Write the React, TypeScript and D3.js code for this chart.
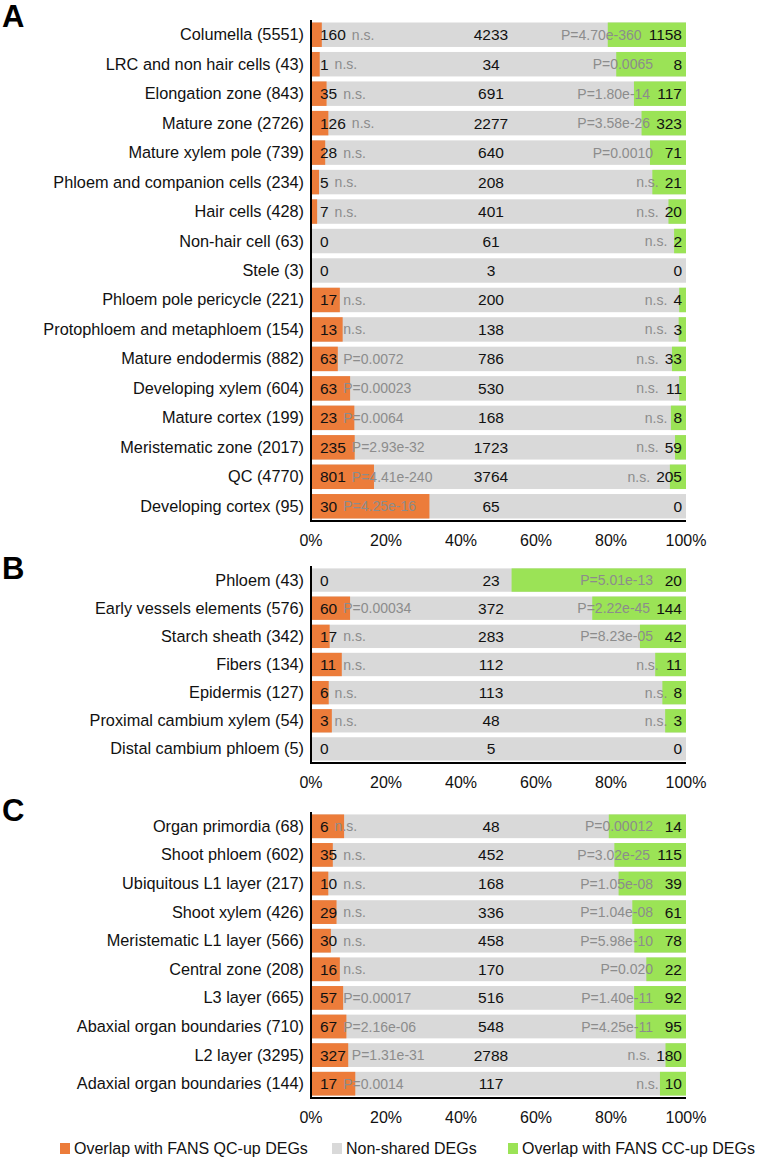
import React from 'react';
import * as d3 from 'd3';

// panel A: root cell types
const rootLabels = [
    'Columella', 'LRC and non hair cells', 'Elongation zone', 'Mature zone',
    'Mature xylem pole', 'Phloem and companion cells', 'Hair cells', 'Non-hair cell',
    'Stele', 'Phloem pole pericycle', 'Protophloem and metaphloem', 'Mature endodermis',
    'Developing xylem', 'Mature cortex', 'Meristematic zone', 'QC', 'Developing cortex',
];
const rootQC = [160, 1, 35, 126, 28, 5, 7, 0, 0, 17, 13, 63, 63, 23, 235, 801, 30];
const rootNon = [4233, 34, 691, 2277, 640, 208, 401, 61, 3, 200, 138, 786, 530, 168, 1723, 3764, 65];
const rootCC = [1158, 8, 117, 323, 71, 21, 20, 2, 0, 4, 3, 33, 11, 8, 59, 205, 0];
const rootQCp = [
    'n.s.', 'n.s.', 'n.s.', 'n.s.', 'n.s.', 'n.s.', 'n.s.', '', '', 'n.s.', 'n.s.',
    'P=0.0072', 'P=0.00023', 'P=0.0064', 'P=2.93e-32', 'P=4.41e-240', 'P=4.25e-16',
];
const rootCCp = [
    'P=4.70e-360', 'P=0.0065', 'P=1.80e-14', 'P=3.58e-26', 'P=0.0010', 'n.s.', 'n.s.', 'n.s.',
    '', 'n.s.', 'n.s.', 'n.s.', 'n.s.', 'n.s.', 'n.s.', 'n.s.', '',
];

// panel B: stem / vascular
const stemLabels = [
    'Phloem', 'Early vessels elements', 'Starch sheath', 'Fibers', 'Epidermis',
    'Proximal cambium xylem', 'Distal cambium phloem',
];
const stemQC = [0, 60, 17, 11, 6, 3, 0];
const stemNon = [23, 372, 283, 112, 113, 48, 5];
const stemCC = [20, 144, 42, 11, 8, 3, 0];
const stemQCp = ['', 'P=0.00034', 'n.s.', 'n.s.', 'n.s.', 'n.s.', ''];
const stemCCp = ['P=5.01e-13', 'P=2.22e-45', 'P=8.23e-05', 'n.s.', 'n.s.', 'n.s.', ''];

// panel C: shoot apex
const shootLabels = [
    'Organ primordia', 'Shoot phloem', 'Ubiquitous L1 layer', 'Shoot xylem',
    'Meristematic L1 layer', 'Central zone', 'L3 layer', 'Abaxial organ boundaries',
    'L2 layer', 'Adaxial organ boundaries',
];
const shootQC = [6, 35, 10, 29, 30, 16, 57, 67, 327, 17];
const shootNon = [48, 452, 168, 336, 458, 170, 516, 548, 2788, 117];
const shootCC = [14, 115, 39, 61, 78, 22, 92, 95, 180, 10];
const shootQCp = ['n.s.', 'n.s.', 'n.s.', 'n.s.', 'n.s.', 'n.s.', 'P=0.00017', 'P=2.16e-06', 'P=1.31e-31', 'P=0.0014'];
const shootCCp = [
    'P=0.00012', 'P=3.02e-25', 'P=1.05e-08', 'P=1.04e-08', 'P=5.98e-10', 'P=0.020',
    'P=1.40e-11', 'P=4.25e-11', 'n.s.', 'n.s.',
];

const ticks = [0, 0.2, 0.4, 0.6, 0.8, 1];
const legendNames = ['Overlap with FANS QC-up DEGs', 'Non-shared DEGs', 'Overlap with FANS CC-up DEGs'];

const ORANGE = '#EC7C3A';
const GRAY = '#D9D9D9';
const GREEN = '#9BE356';
const PGRAY = '#8C8C8C';
const FONT = 'Liberation Sans, Arial, sans-serif';

const x = d3.scaleLinear().domain([0, 1]).range([311, 686]);
const numSize = 15.5;
const digitW = numSize * 0.556;

function Panel({ letter, letterY, labels, qc, non, cc, qcP, ccP, top, bottom }) {
    const y = d3.scaleBand().domain(labels.map((d, i) => i)).range([top, bottom]).paddingInner(0.17).paddingOuter(0.085);
    const bh = y.bandwidth();
    return (
        <g>
            <text x={2} y={letterY} fontSize={31} fontWeight="bold" fontFamily={FONT}>{letter}</text>
            {labels.map((name, i) => {
                const total = qc[i] + non[i] + cc[i];
                const yc = y(i) + bh / 2;
                const x1 = x(qc[i] / total);
                const x2 = x((qc[i] + non[i]) / total);
                const qW = String(qc[i]).length * digitW;
                const cW = String(cc[i]).length * digitW;
                let ccEnd = 682 - cW - 6;
                if (ccP[i].startsWith('P') && ccEnd > 653) ccEnd = 653;
                return (
                    <g key={i}>
                        <text x={304} y={yc + 5.5} textAnchor="end" fontSize={16.3} fontFamily={FONT} fill="#111">
                            {`${name} (${total})`}
                        </text>
                        <rect x={x(0)} y={y(i)} width={x(1) - x(0)} height={bh} fill={GRAY} />
                        <rect x={x(0)} y={y(i)} width={x1 - x(0)} height={bh} fill={ORANGE} />
                        <rect x={x2} y={y(i)} width={x(1) - x2} height={bh} fill={GREEN} />
                        <text x={320} y={yc + 5.5} fontSize={numSize} fontFamily={FONT} fill="#111">{qc[i]}</text>
                        {qcP[i] && (
                            <text x={320 + qW + 6} y={yc + 5} fontSize={14} fontFamily={FONT} fill={PGRAY}>{qcP[i]}</text>
                        )}
                        <text x={x(0.48)} y={yc + 5.5} textAnchor="middle" fontSize={numSize} fontFamily={FONT} fill="#111">{non[i]}</text>
                        {ccP[i] && (
                            <text x={ccEnd} y={yc + 5} textAnchor="end" fontSize={14} fontFamily={FONT} fill={PGRAY}>{ccP[i]}</text>
                        )}
                        <text x={682} y={yc + 5.5} textAnchor="end" fontSize={numSize} fontFamily={FONT} fill="#111">{cc[i]}</text>
                    </g>
                );
            })}
            <line x1={x(0)} x2={x(0)} y1={top} y2={bottom + 1} stroke="#000" strokeWidth={2} />
            <line x1={x(0) - 1} x2={x(1)} y1={bottom} y2={bottom} stroke="#000" strokeWidth={2} />
            {ticks.map(t => (
                <text key={t} x={x(t)} y={bottom + 25} textAnchor="middle" fontSize={16} fontFamily={FONT} fill="#111">
                    {d3.format('.0%')(t)}
                </text>
            ))}
        </g>
    );
}

export default function App() {
    const legendX = [60, 332, 508];
    const legendColors = [ORANGE, GRAY, GREEN];
    return (
        <svg width={761} height={1159} style={{ position: 'absolute', left: 0, top: 0, background: '#fff' }}>
            <Panel letter="A" letterY={27} labels={rootLabels} qc={rootQC} non={rootNon} cc={rootCC}
                qcP={rootQCp} ccP={rootCCp} top={20} bottom={521} />
            <Panel letter="B" letterY={579} labels={stemLabels} qc={stemQC} non={stemNon} cc={stemCC}
                qcP={stemQCp} ccP={stemCCp} top={566} bottom={763} />
            <Panel letter="C" letterY={821} labels={shootLabels} qc={shootQC} non={shootNon} cc={shootCC}
                qcP={shootQCp} ccP={shootCCp} top={812} bottom={1098} />
            {legendNames.map((n, i) => (
                <g key={n}>
                    <rect x={legendX[i]} y={1143} width={10} height={11} fill={legendColors[i]} />
                    <text x={legendX[i] + 14} y={1153.5} fontSize={16} fontFamily={FONT} fill="#111">{n}</text>
                </g>
            ))}
        </svg>
    );
}
